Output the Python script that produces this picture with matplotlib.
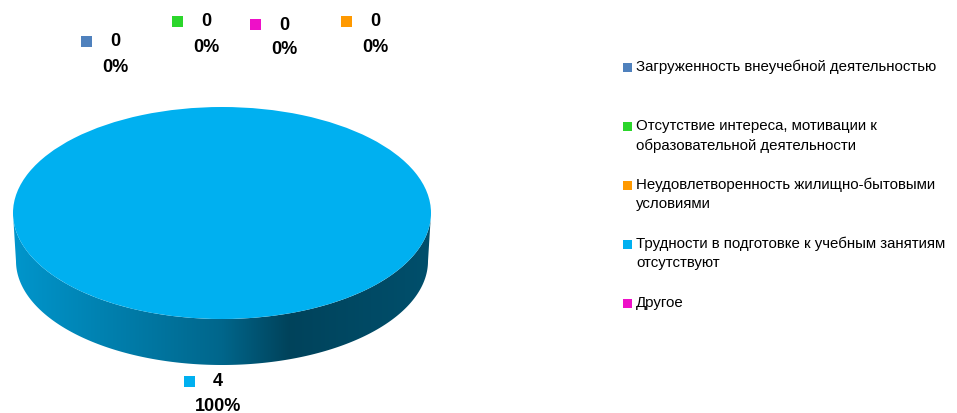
import numpy as np
import matplotlib.pyplot as plt
from matplotlib.patches import Wedge, Polygon, Rectangle
from matplotlib.transforms import Affine2D
from matplotlib.colors import to_rgb

# ===== Данные =====
categories = [
    'Загруженность внеучебной деятельностью',
    'Отсутствие интереса, мотивации к\nобразовательной деятельности',
    'Неудовлетворенность жилищно-бытовыми\nусловиями',
    'Трудности в подготовке к учебным занятиям\nотсутствуют',
    'Другое',
]
values = [0, 0, 0, 4, 0]
colors = ['#4F81BD', '#2BD62B', '#FF9900', '#00B0F0', '#EE10C8']

# места подписей данных (центр текста), в пикселях
label_pos = [(115, 42), (206, 22), (375, 22), (218, 382), (284, 25)]

FONT = ['Liberation Sans', 'DejaVu Sans']

# ===== Геометрия "объёмного" круга =====
cx, cy = 222, 214
rx, ry = 209, 106
rx2, ry2 = 206, 104
depth = 48


def top_xy(theta):
    return cx + rx * np.cos(theta), cy - ry * np.sin(theta)


def bottom_xy(theta):
    return cx + rx2 * np.cos(theta), cy + depth - ry2 * np.sin(theta)


def side_shade(t):
    # яркость боковой стенки слева направо
    return np.interp(t, [0.0, 0.5, 0.66, 1.0], [0.85, 0.58, 0.38, 0.45])


fig = plt.figure(figsize=(9.57, 4.14), dpi=100)
ax = fig.add_axes([0, 0, 1, 1])
ax.set_xlim(0, 957)
ax.set_ylim(414, 0)
ax.axis('off')

total = sum(values)
start = 90.0
angles = []
for v in values:
    sweep = 360.0 * v / total
    angles.append((start - sweep, start))
    start -= sweep

# боковые стенки (видна только передняя половина)
for (a0, a1), v, c in zip(angles, values, colors):
    if v == 0:
        continue
    lo, hi = np.radians(a0), np.radians(a1)
    # пересечение сектора с передней половиной (180..360 градусов)
    th = np.linspace(lo, hi, 720)
    th_mod = np.mod(th, 2 * np.pi)
    front = th_mod >= np.pi
    th = np.sort(th_mod[front])
    if len(th) < 2:
        continue
    tx, ty = top_xy(th)
    bx, by = bottom_xy(th[::-1])
    pts = np.column_stack([np.r_[tx, bx], np.r_[ty, by]])
    poly = Polygon(pts, closed=True, facecolor='none', edgecolor='none')
    ax.add_patch(poly)

    xs = np.linspace(cx - rx, cx + rx, 400)
    shade = side_shade((xs - xs[0]) / (xs[-1] - xs[0]))
    rgb = np.array(to_rgb(c))
    grad = (shade[:, None] * rgb[None, :])[None, :, :]
    im = ax.imshow(grad, extent=(cx - rx, cx + rx, cy + depth + ry + 2, cy - 2),
                   aspect='auto', interpolation='bilinear', zorder=1)
    im.set_clip_path(poly)

# верхняя грань
ellipse_tf = Affine2D().scale(rx, -ry).translate(cx, cy) + ax.transData
for (a0, a1), v, c in zip(angles, values, colors):
    if v == 0:
        continue
    w = Wedge((0, 0), 1.0, a0, a1, facecolor=c, edgecolor='none',
              transform=ellipse_tf, zorder=2)
    ax.add_patch(w)

ax.set_xlim(0, 957)
ax.set_ylim(414, 0)

# ===== Подписи данных =====
for v, c, (lx, ly) in zip(values, colors, label_pos):
    pct = f'{v / total:.0%}'
    ax.add_patch(Rectangle((lx - 34, ly - 5.5), 11, 11, facecolor=c,
                           edgecolor='none', zorder=3))
    ax.text(lx, ly, str(v), ha='center', va='center', fontsize=13,
            fontweight='bold', family=FONT, zorder=3)
    ax.text(lx, ly + 25, pct, ha='center', va='center', fontsize=13,
            fontweight='bold', family=FONT, zorder=3)

# ===== Легенда =====
for i, (name, c) in enumerate(zip(categories, colors)):
    y = 68 + 59 * i
    ax.add_patch(Rectangle((623, y - 4.5), 9, 9, facecolor=c,
                           edgecolor='none', zorder=3))
    ax.text(636, y - 8, name, ha='left', va='top', fontsize=10.8,
            family=FONT, linespacing=1.45, zorder=3)

fig.savefig('out.png', dpi=100)
